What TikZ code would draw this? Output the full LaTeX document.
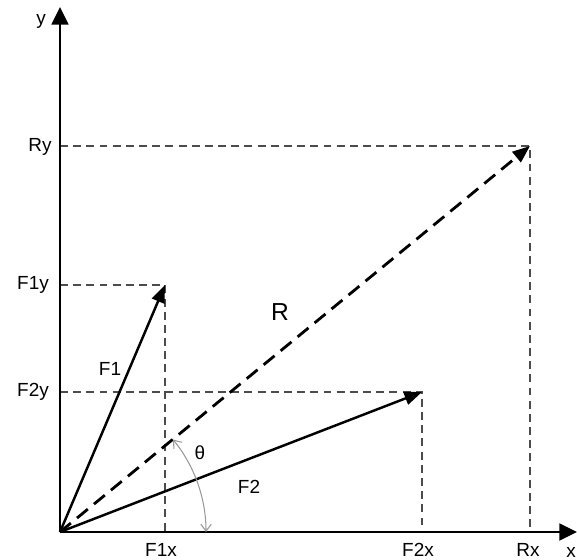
\documentclass[tikz,border=0pt]{standalone}
\usepackage{fontspec}
\setmainfont{Liberation Sans}
\usetikzlibrary{arrows.meta}
\begin{document}
\begin{tikzpicture}[x=0.02cm,y=-0.02cm,
  axis/.style={line width=1.6pt,-{Triangle[length=10pt,width=9.5pt]}},
  force/.style={line width=1.4pt,-{Triangle[length=10pt,width=7.5pt]}},
  result/.style={line width=1.6pt,dash pattern=on 8pt off 4.5pt,-{Triangle[length=10pt,width=7.5pt]}},
  guide/.style={line width=0.8pt,draw=black!70,dash pattern=on 4.5pt off 3pt},
  lbl/.style={font=\fontsize{10.8}{12}\selectfont,inner sep=0pt},
  anglearc/.style={draw=black!40,line width=0.6pt,{Straight Barb[length=4pt,width=6pt]}-{Straight Barb[length=4pt,width=6pt]}}]
\useasboundingbox (0,0) rectangle (577,560);
% key points
\coordinate (O) at (60,532);
\coordinate (XE) at (577,532);
\coordinate (YE) at (60,7);
\coordinate (F1) at (165,285);
\coordinate (F2) at (422,392);
\coordinate (R) at (530,146);
\coordinate (F1yA) at (60,285);
\coordinate (F2yA) at (60,392);
\coordinate (RyA) at (60,146);
\coordinate (F1xA) at (165,532);
\coordinate (F2xA) at (422,532);
\coordinate (RxA) at (530,532);
\coordinate (ArcS) at (206,532);
% guide lines
\draw[guide] (RyA) -- (R) -- (RxA);
\draw[guide] (F1yA) -- (F1) -- (F1xA);
\draw[guide] (F2yA) -- (F2) -- (F2xA);
% axes
\draw[axis] (O) -- (XE);
\draw[axis] (O) -- (YE);
% vectors
\draw[force] (O) -- (F1);
\draw[force] (O) -- (F2);
\draw[result] (O) -- (R);
% angle arc
\draw[anglearc] (ArcS) arc[start angle=0,end angle=39.3,radius=2.92cm];
% labels
\node[lbl] (ly) at (41,21) {y};
\node[lbl] (lx) at (571,552) {x};
\node[lbl] (lRy) at (40,147) {Ry};
\node[lbl] (lF1y) at (33,285) {F1y};
\node[lbl] (lF2y) at (33,392) {F2y};
\node[lbl] (lF1x) at (161,550) {F1x};
\node[lbl] (lF2x) at (418,550) {F2x};
\node[lbl] (lRx) at (528,550) {Rx};
\node[lbl,font=\fontsize{14}{16}\selectfont] (lR) at (280,312) {R};
\node[lbl] (lF1) at (110,369) {F1};
\node[lbl] (lF2) at (249,487) {F2};
\node[lbl] (lth) at (200,453) {θ};
\end{tikzpicture}
\end{document}
